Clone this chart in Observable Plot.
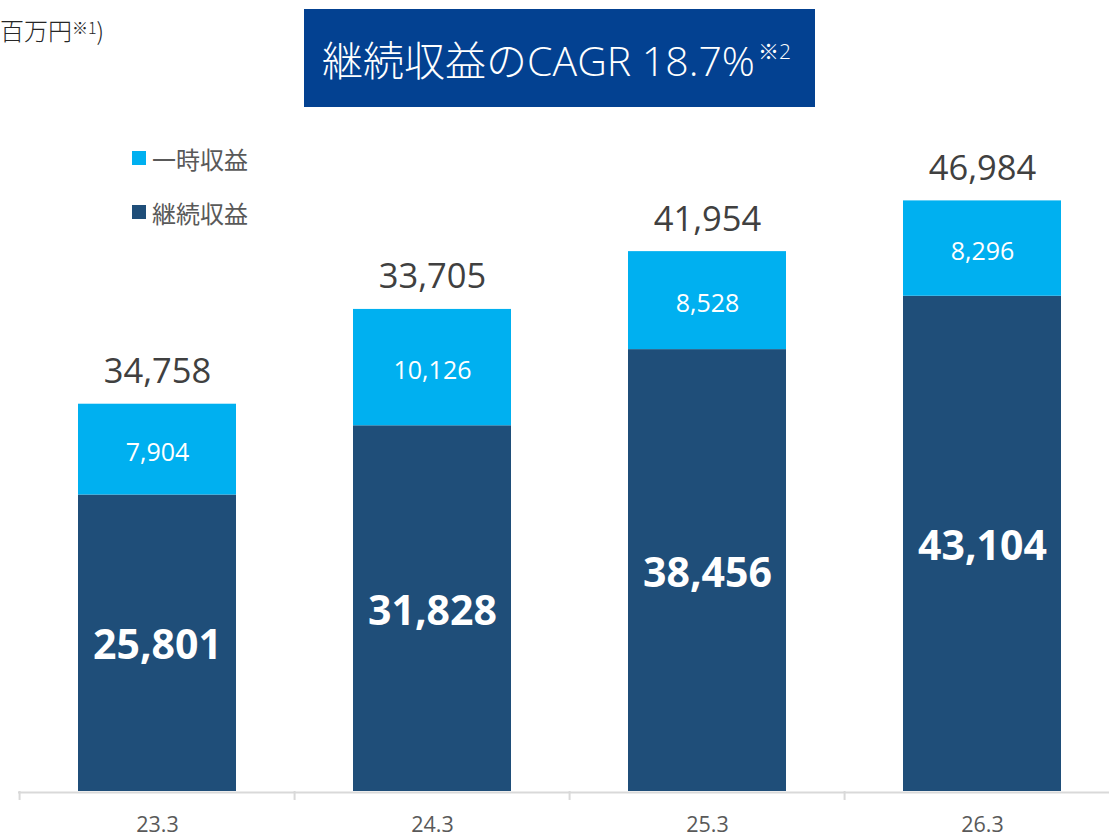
<!DOCTYPE html>
<html>
<head>
<meta charset="utf-8">
<script src="https://cdn.jsdelivr.net/npm/d3@7"></script>
<script src="https://cdn.jsdelivr.net/npm/@observablehq/plot@0.6"></script>
<style>
  body { margin: 0; background: #fff; }
  #wrap { position: relative; width: 1109px; height: 838px; overflow: hidden; font-family: "Open Sans", "Noto Sans CJK JP", sans-serif; }
  #chart { position: absolute; left: 0; top: 0; }
  #unit { position: absolute; left: 0px; top: 15px; white-space: nowrap; font-size: 24px; color: #262626; font-family: "Noto Sans CJK JP", sans-serif; line-height: 30px; font-weight: 300; }
  #unit sup { font-size: 16px; vertical-align: 6px; line-height: 0; }
  #title { position: absolute; left: 304px; top: 9px; width: 511px; height: 98px; background: #034191; color: #fff;
           display: flex; align-items: center; justify-content: center; font-size: 41px; white-space: nowrap; font-weight: 300; box-sizing: border-box; padding-right: 6px; }
  #title .note { font-size: 21px; position: relative; top: -8px; margin-left: 3px; }
  .lg { position: absolute; left: 132px; display: flex; align-items: center; font-size: 24px; color: #595959; font-family: "Noto Sans CJK JP", sans-serif; }
  .lg i { display: inline-block; width: 14px; height: 14px; margin-right: 6px; }
</style>
</head>
<body>
<div id="wrap">
  <div id="chart"></div>
  <div id="unit">百万円<sup>※1</sup>)</div>
  <div id="title"><span>継続収益のCAGR 18.7%</span><span class="note">※2</span></div>
  <div id="legend"></div>
</div>
<script>
const periods = ["23.3", "24.3", "25.3", "26.3"];
const recurring = [25801, 31828, 38456, 43104];
const oneTime = [7904, 10126, 8528, 8296];
const totalLabels = ["34,758", "33,705", "41,954", "46,984"];
const seriesNames = ["継続収益", "一時収益"];
const seriesColors = ["#1F4E79", "#00B0F0"];
const legendOrder = ["一時収益", "継続収益"];

const rows = [];
periods.forEach((p, i) => {
  rows.push({period: p, series: seriesNames[0], value: recurring[i]});
  rows.push({period: p, series: seriesNames[1], value: oneTime[i]});
});
const totals = periods.map((p, i) => ({period: p, total: recurring[i] + oneTime[i], label: totalLabels[i]}));

const xRange = [18, 1121.3];
const step = (xRange[1] - xRange[0]) / periods.length;
const fmt = d3.format(",");
const labelFor = name => d => d.series === name ? fmt(d.value) : "";

const chart = Plot.plot({
  width: 1109,
  height: 838,
  marginLeft: 18,
  marginRight: 0,
  marginTop: 0,
  marginBottom: 47,
  x: {domain: periods, range: xRange, paddingInner: 0.427, paddingOuter: 0.2135, align: 0.5, axis: null},
  y: {domain: [0, 68840], axis: null},
  color: {domain: seriesNames, range: seriesColors},
  style: {fontFamily: "'Open Sans', 'Noto Sans CJK JP', sans-serif", background: "transparent"},
  marks: [
    Plot.barY(rows, {x: "period", y: "value", fill: "series", order: seriesNames}),
    Plot.ruleY([0], {stroke: "#D9D9D9", strokeWidth: 2, dy: 1}),
    Plot.ruleX(periods, {x: d => d, dx: -step / 2, y1: 0, y2: -780, stroke: "#D9D9D9", strokeWidth: 2}),
    Plot.axisX({tickSize: 0, tickPadding: 25, fontSize: 21.5, fill: "#595959", label: null}),
    Plot.text(rows, Plot.stackY({
      x: "period", y: "value", z: "series", order: seriesNames,
      text: labelFor(seriesNames[0]),
      fill: "#fff", fontSize: 41, fontWeight: "bold", dy: 3
    })),
    Plot.text(rows, Plot.stackY({
      x: "period", y: "value", z: "series", order: seriesNames,
      text: labelFor(seriesNames[1]),
      fill: "#fff", fontSize: 25, dy: 3
    })),
    Plot.text(totals, {x: "period", y: "total", text: "label", lineAnchor: "bottom", dy: -21, fontSize: 34.5, fill: "#404040"})
  ]
});
document.getElementById("chart").appendChild(chart);

const legend = document.getElementById("legend");
legendOrder.forEach((name, i) => {
  const el = document.createElement("div");
  el.className = "lg";
  el.style.top = (143 + i * 54) + "px";
  el.style.height = "30px";
  el.innerHTML = `<i style="background:${seriesColors[seriesNames.indexOf(name)]}"></i><span>${name}</span>`;
  legend.appendChild(el);
});
</script>
</body>
</html>
